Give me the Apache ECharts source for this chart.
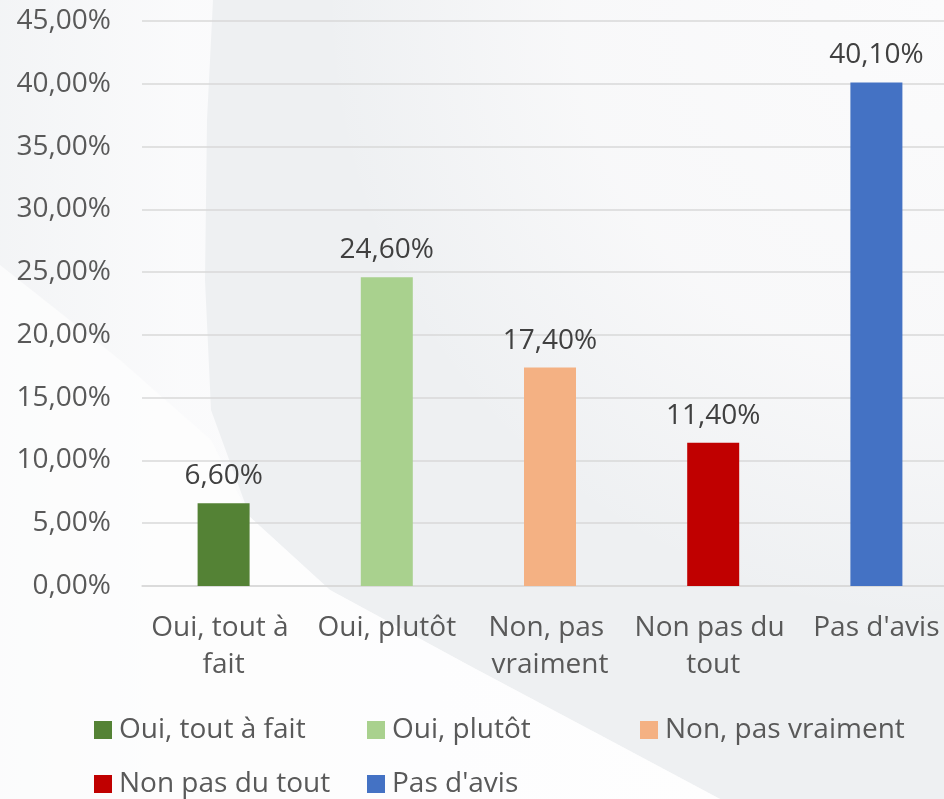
<!DOCTYPE html>
<html>
<head>
  <meta charset="utf-8">
  <title>Oui / Non</title>
  <script src="https://cdn.jsdelivr.net/npm/echarts/dist/echarts.min.js"></script>
  <style>
    html, body { margin: 0; padding: 0; }
    #chart { width: 944px; height: 799px; }
  </style>
</head>
<body>
  <div id="chart"></div>
  <script>
    // données
    var categories = ['Oui, tout à fait', 'Oui, plutôt', 'Non, pas vraiment', 'Non pas du tout', "Pas d'avis"];
    var values = [6.6, 24.6, 17.4, 11.4, 40.1];
    var colors = ['#548235', '#a9d18e', '#f4b183', '#c00000', '#4472c4'];
    var yTicks = [0, 5, 10, 15, 20, 25, 30, 35, 40, 45];

    var FONT = 'Open Sans';
    var fmt = function (v) { return v.toFixed(2).replace('.', ',') + '%'; };

    var myChart = echarts.init(document.getElementById('chart'));

    // une série par catégorie, empilées pour rester centrées
    var series = categories.map(function (name, i) {
      return {
        name: name,
        type: 'bar',
        stack: 'tot',
        barWidth: 52,
        itemStyle: { color: colors[i] },
        label: {
          show: true,
          position: 'top',
          distance: 13,
          color: '#404040',
          fontSize: 28,
          fontFamily: FONT,
          formatter: function (p) { return fmt(p.value); }
        },
        data: categories.map(function (c, j) { return j === i ? values[i] : '-'; })
      };
    });

    // légende en colonnes : une légende par entrée (3 colonnes, 2 lignes)
    var legendCols = [94, 367, 640];
    var legendRows = [716, 770];
    var legends = categories.map(function (name, i) {
      return {
        data: [name],
        left: legendCols[i % 3],
        top: legendRows[Math.floor(i / 3)],
        padding: 0,
        itemWidth: 18, itemHeight: 18,
        icon: 'rect',
        selectedMode: false,
        textStyle: { color: '#595959', fontSize: 28, fontFamily: FONT, padding: [0, 0, 0, 2] }
      };
    });

    var option = {
      backgroundColor: '#eef0f2',
      animation: false,
      graphic: [
        // fond décoratif (courbes claires)
        { type: 'circle', z: -100, silent: true,
          shape: { cx: 944, cy: 0, r: 620 },
          style: { fill: new echarts.graphic.RadialGradient(0.5, 0.5, 0.5, [
            { offset: 0, color: 'rgba(251,251,252,1)' }, { offset: 0.6, color: 'rgba(249,249,250,0.9)' }, { offset: 1, color: 'rgba(249,249,250,0)' }]) } },
        { type: 'polygon', z: -99, silent: true,
          shape: { points: [[0, 0], [213, 0], [207, 120], [205, 280], [211, 410], [250, 517], [330, 590], [472, 667], [600, 735], [720, 799], [0, 799]] },
          style: { fill: new echarts.graphic.LinearGradient(0, 0, 1, 0, [
            { offset: 0, color: 'rgba(252,252,253,0.35)' }, { offset: 0.25, color: 'rgba(252,252,253,0.85)' }, { offset: 0.6, color: '#fcfcfd' }, { offset: 1, color: '#fdfdfd' }]) } },
        { type: 'polygon', z: -98, silent: true,
          shape: { points: [[0, 265], [120, 360], [211, 440], [250, 517], [330, 590], [472, 667], [600, 735], [720, 799], [0, 799]] },
          style: { fill: 'rgba(253,253,254,0.75)' } }
      ],
      grid: { left: 142, top: 21, right: -14, bottom: 213, outerBoundsMode: 'none' },
      legend: legends,
      xAxis: {
        type: 'category',
        data: categories,
        axisLine: { lineStyle: { color: '#d9d9d9', width: 1.5 } },
        axisTick: { show: false },
        axisLabel: {
          interval: 0,
          margin: 24,
          color: '#595959',
          fontSize: 28,
          fontFamily: FONT,
          lineHeight: 37,
          width: 160,
          overflow: 'break'
        }
      },
      yAxis: {
        type: 'value',
        min: yTicks[0],
        max: yTicks[yTicks.length - 1],
        interval: 5,
        axisLine: { show: false },
        axisTick: { show: false },
        splitLine: { lineStyle: { color: '#d9d9d9', width: 1.5 } },
        axisLabel: {
          margin: 31,
          color: '#595959',
          fontSize: 28,
          fontFamily: FONT,
          formatter: fmt
        }
      },
      series: series
    };

    myChart.setOption(option);
  </script>
</body>
</html>
